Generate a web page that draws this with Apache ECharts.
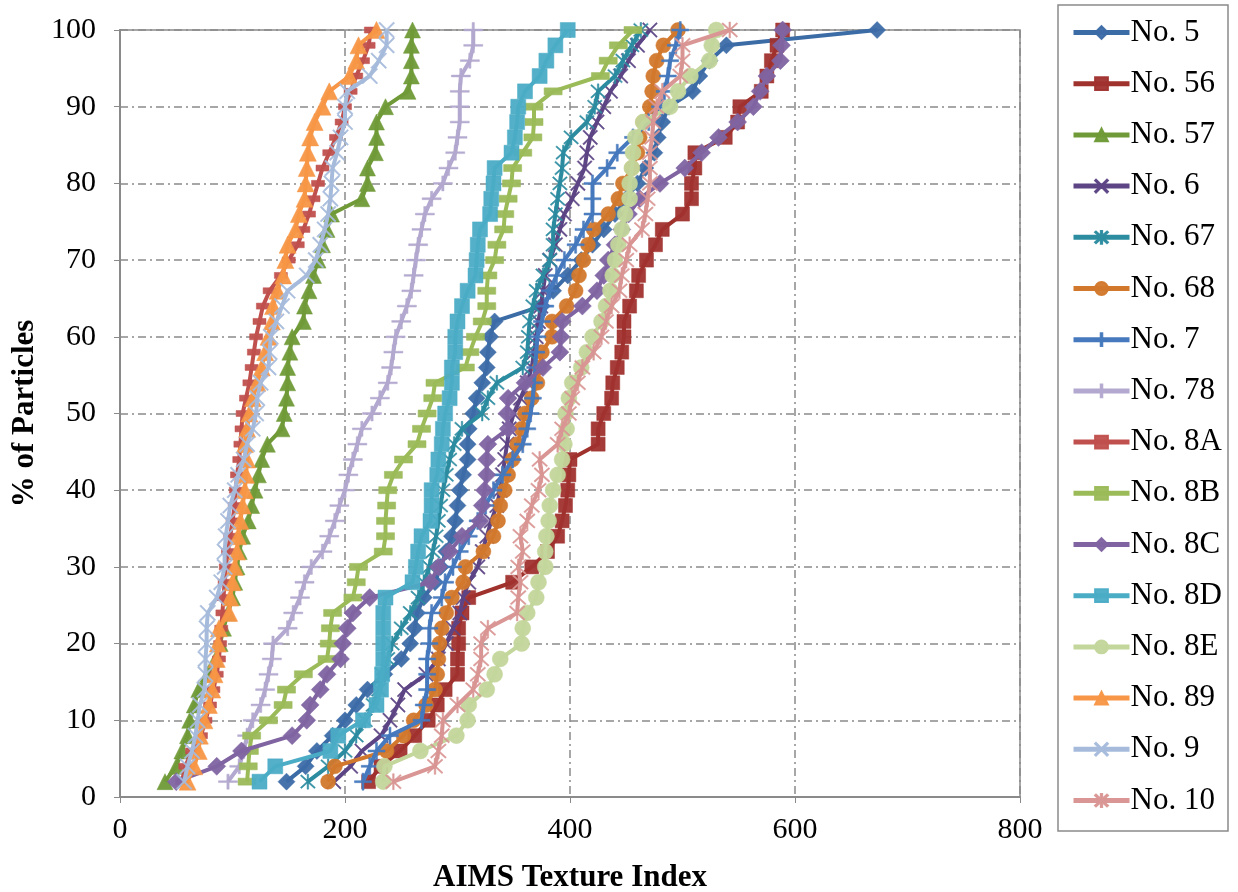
<!DOCTYPE html>
<html><head><meta charset="utf-8">
<script src="https://cdn.jsdelivr.net/npm/echarts@6/dist/echarts.min.js"></script>
<style>html,body{margin:0;padding:0;background:#fff}#c{width:1238px;height:892px}</style>
</head><body><div id="c"></div>
<script>
// Cumulative % of particles (y levels)
const pct = [2,4,6,8,10,12,14,16,18,20,22,24,26,28,30,32,34,36,38,40,42,44,46,48,50,52,54,56,58,60,62,64,66,68,70,72,74,76,78,80,82,84,86,88,90,92,94,96,98,100];
const xTicks = [0,200,400,600,800];
const yTicks = [0,10,20,30,40,50,60,70,80,90,100];

// AIMS Texture Index values per aggregate
const no5  = [148,165,175,189,200,210,220,235,250,258,262,264,270,280,285,290,295,298,300,302,305,309,309,310,314,317,322,326,327,329,333,375,385,398,410,420,430,440,450,460,467,475,478,482,488,509,515,524,539,673];
const no56 = [221,232,249,262,274,282,289,300,300,301,301,304,310,349,366,380,389,393,396,398,399,400,425,425,430,437,438,442,446,448,448,453,459,461,468,476,482,500,508,508,511,511,538,549,551,570,575,579,584,589];
const no57 = [40,50,55,60,62,66,70,78,85,89,92,96,100,102,104,106,109,114,117,120,123,126,131,144,146,148,149,149,151,153,163,164,168,172,176,180,184,188,215,220,220,227,228,228,236,256,259,259,259,260];
const no6  = [190,205,215,232,240,247,253,272,283,290,296,302,305,310,318,322,326,330,335,338,340,342,344,346,350,356,362,366,368,370,372,374,376,378,382,387,391,395,402,407,413,415,418,424,430,436,445,452,460,471];
const no67 = [167,185,200,210,218,225,230,233,238,242,250,258,265,270,275,278,281,283,285,287,290,293,297,304,322,327,335,358,362,363,364,367,370,376,382,385,385,387,389,391,393,394,401,415,422,425,440,447,455,463];
const no68 = [185,191,237,252,261,272,280,282,283,284,286,290,295,305,307,323,332,336,338,342,345,349,353,357,360,366,371,373,375,384,384,397,405,408,412,416,421,434,443,447,455,460,462,465,471,473,474,477,483,496];
const no7  = [216,222,228,240,268,270,273,273,273,275,275,277,286,289,296,302,310,318,325,332,340,349,358,362,365,367,368,369,370,371,375,378,382,388,395,405,412,420,420,420,433,442,456,470,480,484,487,489,494,498];
const no78 = [96,106,110,113,118,125,129,132,135,136,149,154,160,164,170,180,186,191,195,200,203,207,211,215,224,231,238,241,243,245,250,255,259,261,263,265,268,271,277,287,292,298,300,302,302,302,303,311,314,314];
const no8A = [55,58,64,72,76,80,83,86,88,89,90,91,92,93,94,96,98,100,102,103,104,106,107,108,109,112,115,117,119,121,124,127,133,143,150,158,163,168,172,176,180,186,192,197,200,205,210,216,221,223];
const no8B = [113,114,115,117,132,145,148,163,184,186,187,189,207,210,212,234,236,236,237,238,243,252,264,268,273,278,280,307,311,316,322,326,326,327,333,335,341,342,345,348,349,358,367,368,368,385,427,434,443,456];
const no8C = [50,86,108,153,166,169,178,184,196,198,202,207,222,276,283,293,304,320,322,324,326,326,327,345,344,345,360,376,391,392,393,411,424,430,434,440,446,452,462,480,502,517,532,549,563,569,575,587,588,589];
const no8D = [124,138,187,194,216,228,232,233,234,234,234,234,236,260,263,265,268,276,277,277,282,283,286,287,289,293,295,295,298,298,300,304,309,316,317,318,320,329,330,332,333,348,351,353,354,360,373,379,387,398];
const no8E = [234,235,267,299,309,310,326,333,338,357,358,362,370,372,378,378,379,381,382,385,389,393,395,397,396,399,402,410,415,420,428,432,436,438,440,443,446,449,453,453,455,456,458,465,489,496,507,524,526,530];
const no89 = [60,66,70,71,75,79,82,84,86,87,88,97,98,100,102,104,105,107,109,111,112,113,111,113,115,118,122,126,129,132,135,136,140,145,147,149,156,159,164,165,166,167,169,173,180,186,204,210,212,228];
const no9  = [57,60,64,67,69,71,75,76,76,77,77,78,86,90,93,93,94,96,98,102,105,110,113,118,121,122,125,132,133,134,139,144,149,166,174,178,182,185,187,188,189,193,196,200,200,202,222,230,237,237];
const no10 = [243,280,283,286,287,300,314,318,321,321,327,353,354,356,354,358,356,362,366,372,375,373,389,393,399,402,407,411,421,428,432,437,444,446,450,453,464,467,469,471,471,471,473,474,477,482,498,500,500,542];

const names = ['No. 5','No. 56','No. 57','No. 6','No. 67','No. 68','No. 7','No. 78','No. 8A','No. 8B','No. 8C','No. 8D','No. 8E','No. 89','No. 9','No. 10'];
const values = [no5,no56,no57,no6,no67,no68,no7,no78,no8A,no8B,no8C,no8D,no8E,no89,no9,no10];

const PLUS = 'path://M-1.2,-10 L1.2,-10 L1.2,-1.2 L10,-1.2 L10,1.2 L1.2,1.2 L1.2,10 L-1.2,10 L-1.2,1.2 L-10,1.2 L-10,-1.2 L-1.2,-1.2 Z';
const XS = 'path://M-10,-8.6 L-8.6,-10 L10,8.6 L8.6,10 Z M8.6,-10 L10,-8.6 L-8.6,10 L-10,8.6 Z';
const AST = 'path://M-10,-8.6 L-8.6,-10 L10,8.6 L8.6,10 Z M8.6,-10 L10,-8.6 L-8.6,10 L-10,8.6 Z M-1,-11 L1,-11 L1,11 L-1,11 Z';
const styles = [
  {c:'#3C6CA6', s:'diamond', z:[17,17]},
  {c:'#A0322E', s:'rect', z:[14,14]},
  {c:'#6F9A37', s:'triangle', z:[16,16]},
  {c:'#5D4585', s:XS, z:[15,15]},
  {c:'#2C8CA0', s:AST, z:[15,15]},
  {c:'#D2782C', s:'circle', z:[15,15]},
  {c:'#4679BD', s:PLUS, z:[17,17]},
  {c:'#B3A8CF', s:PLUS, z:[19,15]},
  {c:'#C0504D', s:'rect', z:[13,6]},
  {c:'#9BBB59', s:'rect', z:[18,7]},
  {c:'#8064A2', s:'diamond', z:[18,18]},
  {c:'#4BACC6', s:'rect', z:[15,15]},
  {c:'#C3D69B', s:'circle', z:[16,16]},
  {c:'#F79646', s:'triangle', z:[17,17]},
  {c:'#A6BBDB', s:XS, z:[16,16]},
  {c:'#D99694', s:AST, z:[16,16]}
];

const series = names.map((n,i)=>({
  name:n, type:'line',
  data: values[i].map((v,k)=>[v,pct[k]]),
  symbol: styles[i].s, symbolSize: styles[i].z, showSymbol:true,
  lineStyle:{color:styles[i].c, width:4},
  itemStyle:{color:styles[i].c, borderColor:styles[i].c, borderWidth:0.5, opacity:0.95},
  emphasis:{disabled:true},
  z: 2+i
}));

const chart = echarts.init(document.getElementById('c'));
const serif = 'Liberation Serif, Times New Roman, serif';
const dashDot = [8,4,2,4];
chart.setOption({
  animation:false,
  backgroundColor:'#fff',
  grid:{left:120, right:218, top:30, bottom:95, show:true, borderColor:'#8a8a8a', borderWidth:1.5,
    containLabel:false, outerBoundsMode:'none'},
  xAxis:{type:'value', min:xTicks[0], max:xTicks[xTicks.length-1], interval:200,
    axisLine:{show:true, lineStyle:{color:'#8a8a8a', width:2}},
    axisTick:{show:true, inside:false, length:6, lineStyle:{color:'#8a8a8a'}},
    axisLabel:{fontFamily:serif, fontSize:30, color:'#000', margin:18},
    splitLine:{show:true, lineStyle:{color:'#8a8a8a', width:1.5, type:dashDot}},
    name:'AIMS Texture Index', nameLocation:'middle', nameGap:65,
    nameTextStyle:{fontFamily:serif, fontSize:31, fontWeight:'bold', color:'#000'}},
  yAxis:{type:'value', min:yTicks[0], max:yTicks[yTicks.length-1], interval:10,
    axisLine:{show:true, lineStyle:{color:'#8a8a8a', width:2}},
    axisTick:{show:true, inside:false, length:6, lineStyle:{color:'#8a8a8a'}},
    axisLabel:{fontFamily:serif, fontSize:30, color:'#000', margin:24},
    splitLine:{show:true, lineStyle:{color:'#8a8a8a', width:1.5, type:dashDot}},
    name:'% of Particles', nameLocation:'middle', nameGap:72, nameRotate:90,
    nameTextStyle:{fontFamily:serif, fontSize:31, fontWeight:'bold', color:'#000'}},
  legend:{orient:'vertical', left:1066, top:12, itemWidth:56, itemHeight:16, itemGap:20.2,
    textStyle:{fontFamily:serif, fontSize:31, color:'#000', padding:[0,0,0,-4]},
    lineStyle:{width:5},
    data:names, selectedMode:false},
  graphic:[{type:'rect', shape:{x:1058, y:5, width:170, height:826},
    style:{fill:'none', stroke:'#8a8a8a', lineWidth:1.5}, z:100}],
  series:series
});
</script></body></html>
